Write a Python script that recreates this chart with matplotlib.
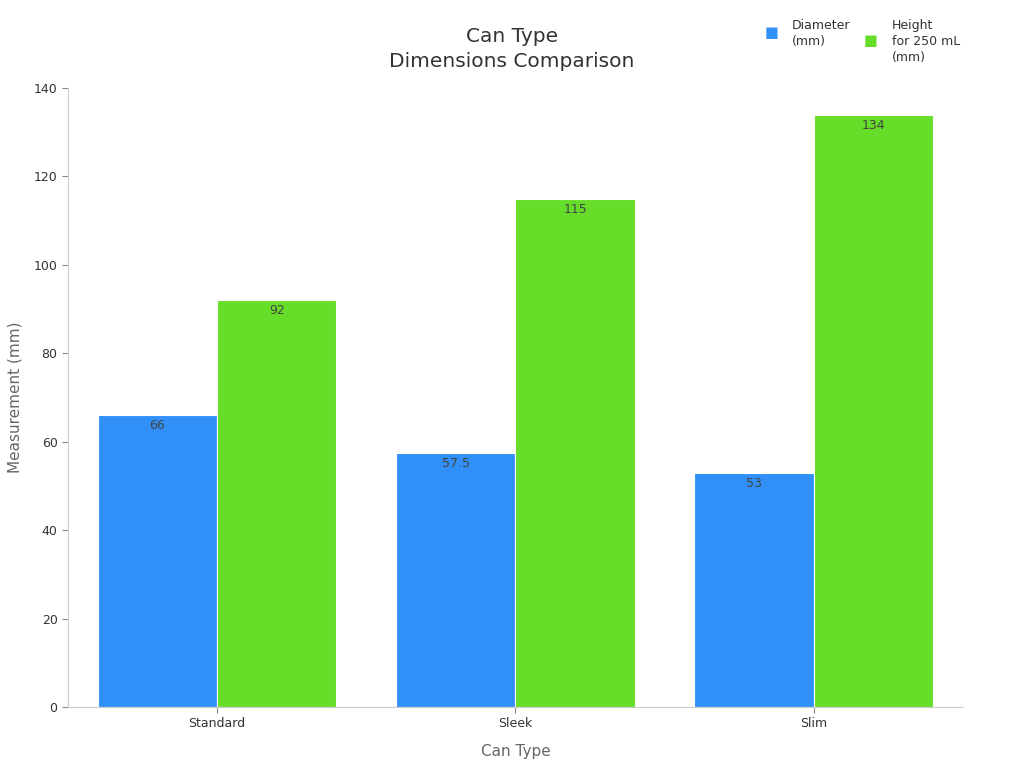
import numpy as np
import matplotlib.pyplot as plt

plt.rcParams['font.family'] = ['DejaVu Sans']

categories = ['Standard', 'Sleek', 'Slim']
diameter = [66, 57.5, 53]
height = [92, 115, 134]
series_names = ['Diameter\n(mm)', 'Height\nfor 250 mL\n(mm)']
colors = ['#3090F8', '#66DD28']

fig = plt.figure(figsize=(10.24, 7.68), dpi=100)
ax = fig.add_axes([0.0664, 0.0794, 0.874, 0.806])

x = np.arange(len(categories))
w = 0.4
b1 = ax.bar(x - w / 2, diameter, w, color=colors[0], edgecolor='white', linewidth=0.8)
b2 = ax.bar(x + w / 2, height, w, color=colors[1], edgecolor='white', linewidth=0.8)

for bars, vals in [(b1, diameter), (b2, height)]:
    for rect, v in zip(bars, vals):
        ax.annotate('{:g}'.format(v), (rect.get_x() + rect.get_width() / 2, v),
                    xytext=(0, -3), textcoords='offset points', ha='center', va='top',
                    fontsize=9, color='#444444')

ax.set_xlim(-0.5, 2.5)
ax.set_ylim(0, 140)
ax.set_yticks(range(0, 141, 20))
ax.set_xticks(x)
ax.set_xticklabels(categories)
ax.tick_params(labelsize=9, colors='#333333', length=4)
ax.tick_params(axis='both', color='#888888')
for s in ['top', 'right']:
    ax.spines[s].set_visible(False)
for s in ['left', 'bottom']:
    ax.spines[s].set_color('#cccccc')

ax.set_xlabel('Can Type', fontsize=11, color='#666666', labelpad=10)
ax.set_ylabel('Measurement (mm)', fontsize=11, color='#666666', labelpad=8)

fig.text(0.5, 0.908, 'Can Type\nDimensions Comparison', ha='center', va='bottom',
         fontsize=14.5, color='#333333', linespacing=1.35)

# legend drawn by hand: square marker centred on each top-aligned label block
leg_x = [772, 871]
txt_x = [792, 892]
for name, c, mx, tx in zip(series_names, colors, leg_x, txt_x):
    fig.text(tx / 1024, 1 - 19 / 768, name, ha='left', va='top', fontsize=9,
             color='#333333', linespacing=1.3)
    n = name.count('\n') + 1
    my = 19 + n * 15.5 / 2 - 2
    fig.text(mx / 1024, 1 - my / 768, '\u25A0', ha='center', va='center',
             fontsize=10.5, color=c)

fig.savefig('out.png', dpi=100)
